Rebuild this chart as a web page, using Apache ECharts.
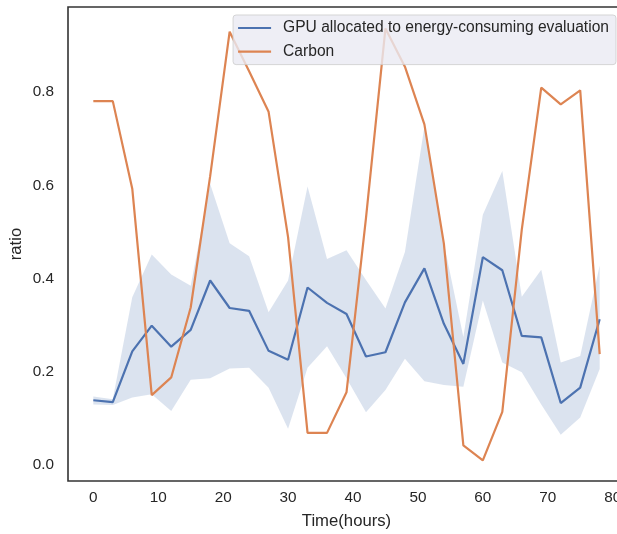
<!DOCTYPE html>
<html>
<head>
<meta charset="utf-8">
<script src="https://cdn.jsdelivr.net/npm/echarts@6/dist/echarts.min.js"></script>
<style>
  html, body { margin: 0; padding: 0; background: #fff; }
  #chart { width: 617px; height: 534px; }
</style>
</head>
<body>
<div id="chart"></div>
<script>
// time axis (hours)
var hours = [0, 3, 6, 9, 12, 15, 18, 21, 24, 27, 30, 33, 36, 39, 42, 45, 48, 51, 54, 57, 60, 63, 66, 69, 72, 75, 78];

// mean ratio of GPUs allocated to energy-consuming evaluation
var gpuMean = [0.139, 0.135, 0.244, 0.299, 0.254, 0.290, 0.396, 0.337, 0.331, 0.245, 0.226, 0.381, 0.348,
               0.324, 0.233, 0.242, 0.349, 0.422, 0.303, 0.217, 0.446, 0.418, 0.277, 0.274, 0.133, 0.166, 0.313];
// confidence band
var gpuLower = [0.130, 0.129, 0.145, 0.152, 0.116, 0.183, 0.186, 0.207, 0.209, 0.166, 0.078, 0.209, 0.255,
                0.186, 0.113, 0.161, 0.228, 0.180, 0.172, 0.168, 0.353, 0.220, 0.199, 0.130, 0.065, 0.102, 0.206];
var gpuUpper = [0.147, 0.141, 0.360, 0.452, 0.409, 0.385, 0.603, 0.476, 0.448, 0.328, 0.396, 0.598, 0.442,
                0.461, 0.397, 0.336, 0.457, 0.726, 0.476, 0.275, 0.537, 0.631, 0.361, 0.419, 0.220, 0.234, 0.428];

// carbon intensity (normalised)
var carbon = [0.781, 0.781, 0.593, 0.150, 0.188, 0.338, 0.620, 0.930, 0.845, 0.758, 0.489, 0.069, 0.069,
              0.156, 0.530, 0.937, 0.855, 0.731, 0.475, 0.042, 0.010, 0.114, 0.505, 0.810, 0.774, 0.804, 0.238];

var xTicks = [0, 10, 20, 30, 40, 50, 60, 70, 80];
var yTicks = [0, 0.2, 0.4, 0.6, 0.8];

var FONT = '"Liberation Sans", Arial, sans-serif';
var TEXT = '#262626';
var BLUE = '#4c72b0';
var ORANGE = '#dd8452';

function pairs(ys) {
	return hours.map(function (h, i) { return [h, ys[i]]; });
}

var chart = echarts.init(document.getElementById('chart'));

// band polygon: upper edge left->right, then lower edge right->left
function renderBand(params, api) {
	if (params.dataIndex !== 0) {
		return null;
	}
	var pts = [];
	var i;
	for (i = 0; i < hours.length; i++) {
		pts.push(api.coord([hours[i], gpuUpper[i]]));
	}
	for (i = hours.length - 1; i >= 0; i--) {
		pts.push(api.coord([hours[i], gpuLower[i]]));
	}
	return {
		type: 'polygon',
		shape: { points: pts },
		style: { fill: 'rgba(76,114,176,0.2)', stroke: null }
	};
}

var option = {
	animation: false,
	backgroundColor: '#fff',
	grid: {
		left: 68, top: 7, width: 557, height: 474,
		outerBoundsMode: 'none',
		containLabel: false,
		show: true,
		borderColor: '#333',
		borderWidth: 1.6,
		backgroundColor: 'transparent'
	},
	legend: {
		data: ['GPU allocated to energy-consuming evaluation', 'Carbon'],
		orient: 'vertical',
		right: 1,
		top: 15,
		icon: 'rect',
		backgroundColor: 'rgba(234,234,242,0.8)',
		borderColor: 'rgba(204,204,204,0.8)',
		borderWidth: 1,
		borderRadius: 3,
		padding: [5, 7, 5, 5],
		itemWidth: 33,
		itemHeight: 2.2,
		itemGap: 7.6,
		textStyle: { fontFamily: FONT, fontSize: 15.6, color: TEXT, lineHeight: 14, padding: [0, 0, 0, 7] }
	},
	xAxis: {
		type: 'value',
		min: -3.9,
		max: 81.9,
		name: 'Time(hours)',
		nameLocation: 'middle',
		nameGap: 32,
		nameTextStyle: { fontFamily: FONT, fontSize: 16.7, color: TEXT },
		axisLine: { show: false },
		axisTick: { show: false },
		splitLine: { show: false },
		axisLabel: {
			customValues: xTicks,
			margin: 9,
			fontFamily: FONT, fontSize: 15.3, color: TEXT
		}
	},
	yAxis: {
		type: 'value',
		min: -0.0343,
		max: 0.983,
		name: 'ratio',
		nameLocation: 'middle',
		nameMoveOverlap: false,
		nameGap: 43,
		nameRotate: 90,
		nameTextStyle: { fontFamily: FONT, fontSize: 16.7, color: TEXT },
		axisLine: { show: false },
		axisTick: { show: false },
		splitLine: { show: false },
		axisLabel: {
			customValues: yTicks,
			margin: 14,
			formatter: function (v) { return v.toFixed(1); },
			fontFamily: FONT, fontSize: 15.3, color: TEXT
		}
	},
	series: [
		{
			name: 'gpuBand',
			type: 'custom',
			renderItem: renderBand,
			data: [0],
			silent: true,
			clip: true
		},
		{
			name: 'GPU allocated to energy-consuming evaluation',
			type: 'line',
			data: pairs(gpuMean),
			symbol: 'none',
			color: BLUE,
			lineStyle: { color: BLUE, width: 2.2 }
		},
		{
			name: 'Carbon',
			type: 'line',
			data: pairs(carbon),
			symbol: 'none',
			color: ORANGE,
			lineStyle: { color: ORANGE, width: 2.2 }
		}
	]
};

chart.setOption(option);
</script>
</body>
</html>
